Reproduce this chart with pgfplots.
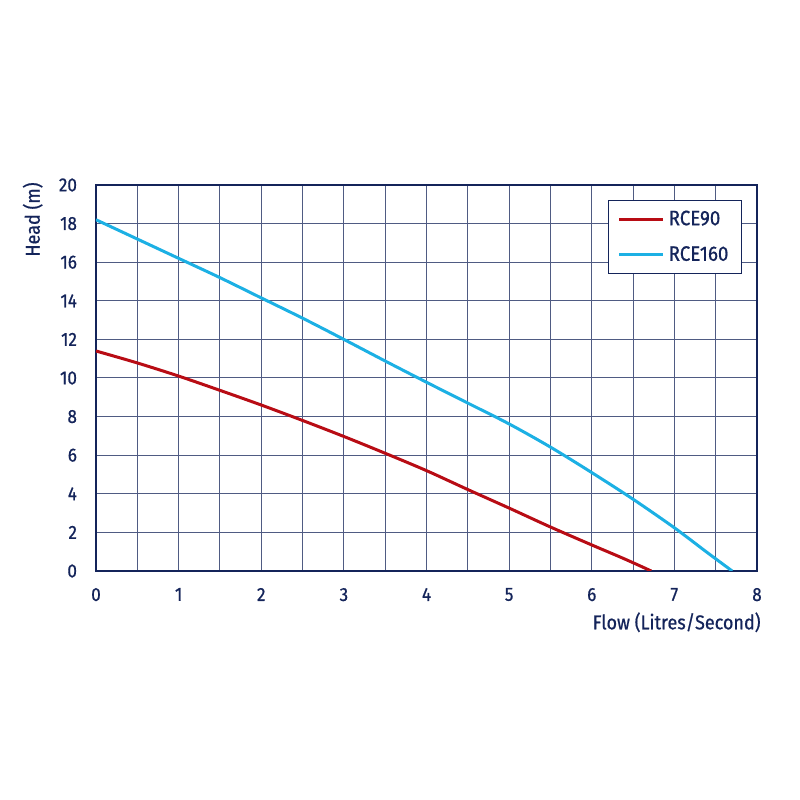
\documentclass[border=0pt]{standalone}
\usepackage{pgfplots}
\pgfplotsset{compat=1.18}
\usepackage{fontspec}
\setmainfont{Fira Sans}[FakeStretch=0.9, BoldFont=Fira Sans, BoldFeatures={FakeBold=0.7}]
\definecolor{navy}{HTML}{14245A}
\definecolor{rred}{HTML}{B80C14}
\definecolor{rcyan}{HTML}{1CB0E4}
\begin{document}
\begin{tikzpicture}
\path[use as bounding box] (0,0) rectangle (400pt,400pt);
\begin{axis}[name=ax, at={(48pt,114.5pt)}, anchor=south west,
  scale only axis, width=330.5pt, height=193pt,
  xmin=0, xmax=8, ymin=0, ymax=20,
  xtick={0,...,8}, ytick={0,2,...,20}, minor x tick num=1,
  grid=both,
  major grid style={navy!75, line width=0.5pt},
  minor grid style={navy!75, line width=0.5pt},
  major tick length=0pt, minor tick length=0pt,
  axis line style={navy, line width=1.3pt},
  ticklabel style={font=\fontsize{9.5}{11}\selectfont\bfseries, text=navy},
  /pgf/number format/assume math mode=true,
  xticklabel style={yshift=-5pt}, yticklabel style={xshift=-6pt},
  legend style={at={(rel axis cs:1,1)}, anchor=north east, xshift=-7.5pt, yshift=-7.5pt,
    draw=navy, line width=0.6pt, font=\fontsize{10.4}{12}\selectfont\bfseries, text=navy,
    inner xsep=4.5pt, inner ysep=3pt, row sep=5pt},
  legend cell align=left,
  legend image code/.code={\draw[#1, line width=1.5pt] (0pt,0pt) -- (22pt,0pt);},
]
\addplot[rred, line width=1.5pt, smooth, tension=0.5] coordinates {
  (0,11.4) (0.5,10.78) (1,10.1) (1.5,9.36) (2,8.6) (2.5,7.8) (3,6.97) (3.5,6.1)
  (4,5.2) (4.5,4.22) (5,3.26) (5.5,2.28) (6,1.35) (6.4,0.62) (6.72,0)
};
\addlegendentry{RCE90}
\addplot[rcyan, line width=1.5pt, smooth, tension=0.5] coordinates {
  (0,18.2) (0.5,17.2) (1,16.2) (1.5,15.2) (2,14.15) (2.5,13.1) (3,12.0) (3.5,10.88)
  (4,9.78) (4.5,8.7) (5,7.62) (5.5,6.42) (6,5.1) (6.5,3.72) (7,2.24) (7.4,0.95) (7.7,0)
};
\addlegendentry{RCE160}
\end{axis}
\node[anchor=north east, inner sep=0pt, font=\fontsize{10}{12}\selectfont\bfseries, text=navy]
  at ([xshift=2pt,yshift=-20.5pt]ax.south east) {Flow (Litres/Second)};
\node[rotate=90, anchor=south east, inner sep=0pt, font=\fontsize{10}{12}\selectfont\bfseries, text=navy]
  at ([xshift=-26.5pt,yshift=1.5pt]ax.north west) {Head (m)};
\end{tikzpicture}
\end{document}
